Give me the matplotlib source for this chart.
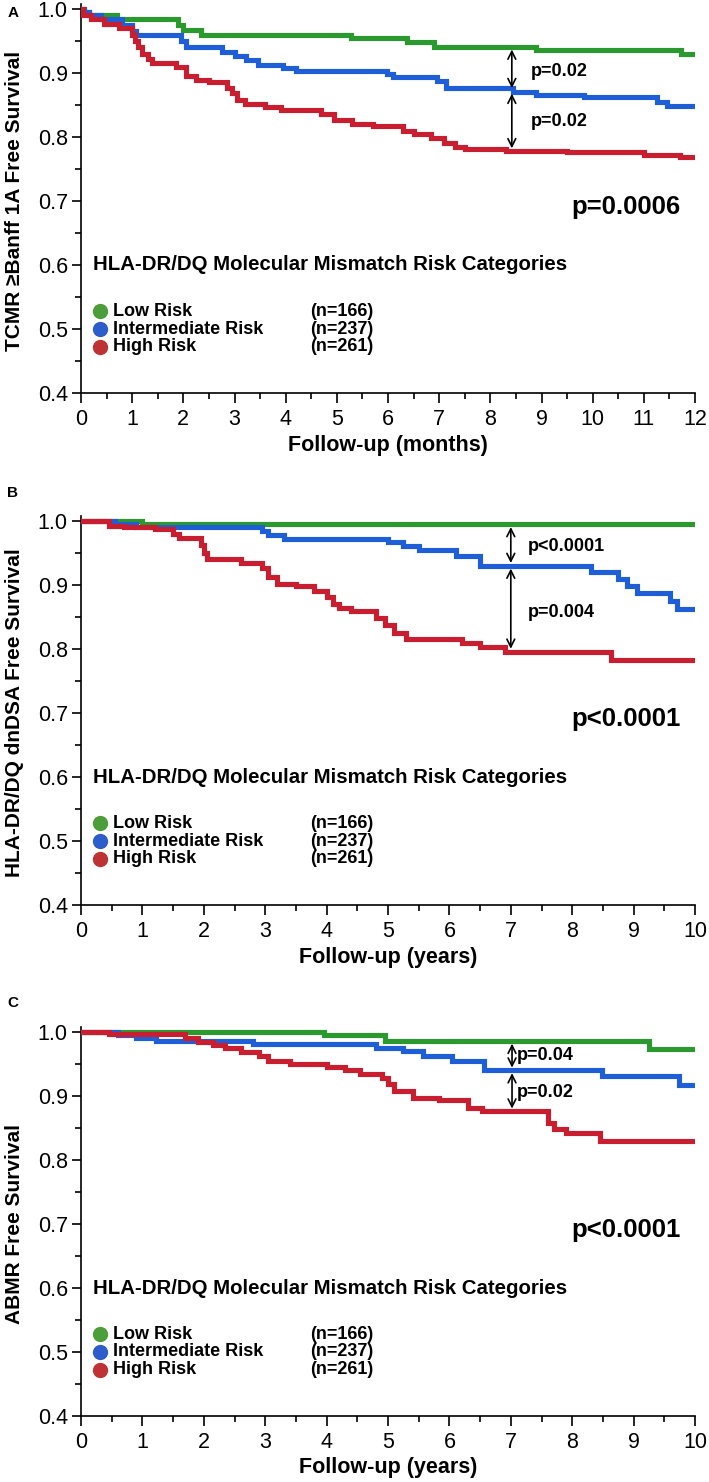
import matplotlib
matplotlib.use("Agg")
import matplotlib.pyplot as plt
from matplotlib.ticker import MultipleLocator, FormatStrFormatter

plt.rcParams['font.family'] = ['Liberation Sans', 'DejaVu Sans']

# ---------------- data ----------------
# Panel A (months)
a_green_t = [0, 0.05, 0.15, 0.7, 1.9, 2.0, 2.35, 5.27, 6.38, 6.9, 8.9, 11.73, 12]
a_green_s = [1.0, 0.995, 0.99, 0.985, 0.975, 0.967, 0.96, 0.955, 0.948, 0.941, 0.936, 0.93, 0.93]
a_blue_t = [0, 0.05, 0.15, 0.4, 0.8, 1.0, 1.08, 1.95, 2.05, 2.75, 3.0, 3.22, 3.45, 3.94, 4.2,
            5.98, 6.1, 6.95, 7.13, 8.45, 8.9, 9.83, 11.25, 11.45, 12]
a_blue_s = [1.0, 0.995, 0.99, 0.985, 0.975, 0.965, 0.96, 0.95, 0.94, 0.933, 0.926, 0.92, 0.913, 0.908, 0.903,
            0.898, 0.893, 0.888, 0.876, 0.871, 0.866, 0.862, 0.855, 0.849, 0.849]
a_red_t = [0, 0.03, 0.2, 0.45, 0.75, 1.0, 1.05, 1.12, 1.2, 1.3, 1.38, 1.85, 2.05, 2.25, 2.5, 2.85, 2.95,
           3.05, 3.2, 3.6, 3.9, 4.7, 4.95, 5.3, 5.7, 6.3, 6.5, 6.85, 7.1, 7.3, 7.5, 8.3, 9.5, 11.0, 11.7, 12]
a_red_s = [1.0, 0.99, 0.985, 0.977, 0.97, 0.96, 0.95, 0.94, 0.93, 0.922, 0.916, 0.91, 0.895, 0.889, 0.886,
           0.876, 0.868, 0.858, 0.851, 0.847, 0.842, 0.836, 0.826, 0.82, 0.817, 0.81, 0.805, 0.798, 0.79,
           0.785, 0.781, 0.778, 0.776, 0.772, 0.768, 0.768]

# Panel B (years)
b_green_t = [0, 1.0, 10]
b_green_s = [1.0, 0.995, 0.995]
b_blue_t = [0, 0.55, 0.9, 2.95, 3.05, 3.3, 5.0, 5.25, 5.5, 6.1, 6.5, 8.3, 8.75, 8.9, 9.05, 9.6, 9.7, 10]
b_blue_s = [1.0, 0.995, 0.99, 0.985, 0.978, 0.972, 0.967, 0.961, 0.955, 0.945, 0.93, 0.92, 0.91, 0.898,
            0.888, 0.875, 0.863, 0.863]
b_red_t = [0, 0.45, 0.7, 1.2, 1.5, 1.6, 1.95, 2.0, 2.05, 2.6, 2.95, 3.05, 3.2, 3.5, 3.8, 4.0, 4.1, 4.2,
           4.4, 4.8, 4.95, 5.1, 5.3, 6.2, 6.5, 6.9, 8.63, 10]
b_red_s = [1.0, 0.992, 0.99, 0.987, 0.98, 0.973, 0.963, 0.95, 0.94, 0.935, 0.927, 0.912, 0.902, 0.898,
           0.89, 0.882, 0.87, 0.864, 0.859, 0.848, 0.838, 0.825, 0.815, 0.81, 0.803, 0.796, 0.783, 0.783]

# Panel C (years)
c_green_t = [0, 3.95, 4.95, 9.25, 10]
c_green_s = [1.0, 0.995, 0.986, 0.973, 0.973]
c_blue_t = [0, 0.6, 0.9, 1.22, 2.8, 4.8, 5.24, 5.57, 6.05, 6.57, 8.49, 9.74, 10]
c_blue_s = [1.0, 0.996, 0.991, 0.986, 0.981, 0.975, 0.97, 0.963, 0.955, 0.94, 0.931, 0.917, 0.917]
c_red_t = [0, 0.45, 1.7, 1.9, 2.15, 2.35, 2.6, 2.9, 3.05, 3.4, 4.0, 4.3, 4.55, 4.9, 5.0, 5.1, 5.4,
           5.83, 6.31, 6.53, 7.6, 7.7, 7.9, 8.45, 10]
c_red_s = [1.0, 0.997, 0.99, 0.985, 0.98, 0.975, 0.968, 0.962, 0.955, 0.95, 0.945, 0.94, 0.935, 0.928,
           0.918, 0.908, 0.897, 0.893, 0.882, 0.876, 0.858, 0.849, 0.842, 0.829, 0.829]

risk_labels = ["Low Risk", "Intermediate Risk", "High Risk"]
risk_n = ["(n=166)", "(n=237)", "(n=261)"]
legend_title = "HLA-DR/DQ Molecular Mismatch Risk Categories"

ylabels = ["TCMR \u2265Banff 1A Free Survival", "HLA-DR/DQ dnDSA Free Survival", "ABMR Free Survival"]
xlabels = ["Follow-up (months)", "Follow-up (years)", "Follow-up (years)"]
xmax = [12, 10, 10]
panel_letters = ["A", "B", "C"]
overall_p = ["p=0.0006", "p<0.0001", "p<0.0001"]

# pairwise comparisons: x position, (top, mid, bottom) survival, labels
arrow_x = [8.42, 7.0, 7.02]
arrow_y = [(0.941, 0.872, 0.778), (0.995, 0.93, 0.796), (0.986, 0.94, 0.876)]
pair_labels = [("p=0.02", "p=0.02"), ("p<0.0001", "p=0.004"), ("p=0.04", "p=0.02")]
pair_label_x = [8.8, 7.27, 7.1]
pair_label_y = [(0.903, 0.824), (0.96, 0.857), (0.963, 0.905)]

colors = ['#2B9A2E', '#1E5ED6', '#C81E30']
dot_colors = ['#4C9E3A', '#2D5CCB', '#BE3234']

curves = [
    [(a_green_t, a_green_s), (a_blue_t, a_blue_s), (a_red_t, a_red_s)],
    [(b_green_t, b_green_s), (b_blue_t, b_blue_s), (b_red_t, b_red_s)],
    [(c_green_t, c_green_s), (c_blue_t, c_blue_s), (c_red_t, c_red_s)],
]

# ---------------- figure ----------------
W, H = 709, 1482
fig = plt.figure(figsize=(W / 100, H / 100), dpi=100)

ymin, ymax = 0.4, 1.008
ppu = 640.0  # pixels per survival unit
ax_h_px = (ymax - ymin) * ppu
bottoms_px = [393, 905, 1416]  # pixel row (from top) of y=0.4
letter_y_px = [13, 493, 1003]
left_px, right_px = 81, 695

for i in range(3):
    bottom = 1 - bottoms_px[i] / H
    ax = fig.add_axes([left_px / W, bottom, (right_px - left_px) / W, ax_h_px / H])
    for (t, s), c in zip(curves[i], colors):
        ax.step(t, s, where='post', color=c, lw=3.7, solid_joinstyle='miter', zorder=3)

    ax.set_xlim(0, xmax[i])
    ax.set_ylim(ymin, ymax)
    for sp in ['top', 'right']:
        ax.spines[sp].set_visible(False)
    for sp in ['left', 'bottom']:
        ax.spines[sp].set_linewidth(1.2)
    ax.spines['left'].set_bounds(ymin, ymax)

    ax.xaxis.set_major_locator(MultipleLocator(1))
    ax.xaxis.set_minor_locator(MultipleLocator(0.5))
    ax.yaxis.set_major_locator(MultipleLocator(0.1))
    ax.yaxis.set_minor_locator(MultipleLocator(0.05))
    ax.yaxis.set_major_formatter(FormatStrFormatter('%.1f'))
    ax.tick_params(axis='both', which='major', direction='out', width=1.2, labelsize=15.5, colors='black')
    ax.tick_params(axis='x', which='major', length=7.5, pad=4)
    ax.tick_params(axis='x', which='minor', length=4.5, width=1.2)
    ax.tick_params(axis='y', which='major', length=6.5, pad=3)
    ax.tick_params(axis='y', which='minor', length=4.0, width=1.2)

    ax.set_ylabel(ylabels[i], fontsize=15, fontweight='bold', va='center')
    ax.yaxis.set_label_coords((15 - left_px) / (right_px - left_px), (1.0 - ymin) / 2 / (ymax - ymin))
    ax.set_xlabel(xlabels[i], fontsize=15.5, fontweight='bold', va='center')
    ax.xaxis.set_label_coords(0.5, -52 / ax_h_px)

    # legend block
    ax.text(0.0195, 0.6, legend_title, transform=ax.get_yaxis_transform(), fontsize=14.7,
            fontweight='bold', va='center', ha='left')
    for k, yy in enumerate([0.528, 0.500, 0.472]):
        ax.plot([0.031], [yy], 'o', transform=ax.get_yaxis_transform(), color=dot_colors[k],
                markersize=10, clip_on=False, zorder=4)
        ax.text(0.052, yy, risk_labels[k], transform=ax.get_yaxis_transform(), fontsize=13,
                fontweight='bold', va='center', ha='left')
        ax.text(0.373, yy, risk_n[k], transform=ax.get_yaxis_transform(), fontsize=13,
                fontweight='bold', va='center', ha='left')

    # overall p
    ax.text(0.798, 0.69, overall_p[i], transform=ax.get_yaxis_transform(), fontsize=18.5,
            fontweight='bold', va='center', ha='left')

    # pairwise arrows
    xa = arrow_x[i]
    top, mid, bot = arrow_y[i]
    for y1, y2 in [(top, mid), (mid, bot)]:
        ax.annotate('', xy=(xa, y2), xytext=(xa, y1),
                    arrowprops=dict(arrowstyle='<->', lw=1.2, color='black',
                                    mutation_scale=14, shrinkA=2, shrinkB=2), zorder=5)
    for lab, yy in zip(pair_labels[i], pair_label_y[i]):
        ax.text(pair_label_x[i], yy, lab, fontsize=13, fontweight='bold', va='center', ha='left')

    fig.text(13 / W, 1 - letter_y_px[i] / H, panel_letters[i], fontsize=11, fontweight='bold',
             ha='center', va='center')

fig.savefig('out.png', dpi=100)
